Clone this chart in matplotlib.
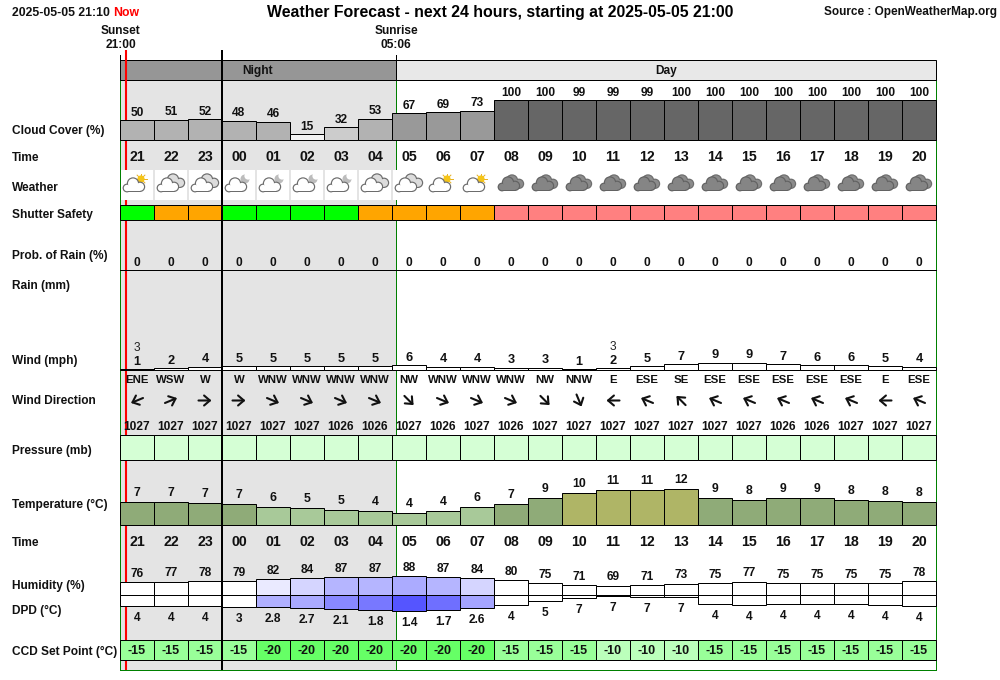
import numpy as np
import matplotlib
matplotlib.use('Agg')
import matplotlib.pyplot as plt
from matplotlib.patches import Circle, Rectangle

plt.rcParams['font.family'] = ['Liberation Sans', 'DejaVu Sans']

# one column per forecast hour
hours = ['21', '22', '23', '00', '01', '02', '03', '04', '05', '06', '07', '08',
         '09', '10', '11', '12', '13', '14', '15', '16', '17', '18', '19', '20']
cloud = [50, 51, 52, 48, 46, 15, 32, 53, 67, 69, 73, 100,
         100, 99, 99, 99, 100, 100, 100, 100, 100, 100, 100, 100]
icons = ['sun', 'dbl', 'dbl', 'moon', 'moon', 'moon', 'moon', 'dbl', 'dbl', 'sun', 'sun', 'dark',
         'dark', 'dark', 'dark', 'dark', 'dark', 'dark', 'dark', 'dark', 'dark', 'dark', 'dark', 'dark']
shutter = ['g', 'o', 'o', 'g', 'g', 'g', 'g', 'o', 'o', 'o', 'o', 'r',
           'r', 'r', 'r', 'r', 'r', 'r', 'r', 'r', 'r', 'r', 'r', 'r']
rain_prob = [0] * 24
wind = [1, 2, 4, 5, 5, 5, 5, 5, 6, 4, 4, 3, 3, 1, 2, 5, 7, 9, 9, 7, 6, 6, 5, 4]
wind_dir = ['ENE', 'WSW', 'W', 'W', 'WNW', 'WNW', 'WNW', 'WNW', 'NW', 'WNW', 'WNW', 'WNW',
            'NW', 'NNW', 'E', 'ESE', 'SE', 'ESE', 'ESE', 'ESE', 'ESE', 'ESE', 'E', 'ESE']
wind_extra = {0: '3', 14: '3'}
pressure = [1027, 1027, 1027, 1027, 1027, 1027, 1026, 1026, 1027, 1026, 1027, 1026,
            1027, 1027, 1027, 1027, 1027, 1027, 1027, 1026, 1026, 1027, 1027, 1027]
temp = [7.4, 7.4, 7.1, 6.9, 5.9, 5.5, 4.9, 4.5, 3.8, 4.5, 5.9, 7.0,
        9.0, 10.6, 11.6, 11.6, 11.9, 9.0, 8.3, 9.0, 9.0, 8.3, 8.0, 7.6]
temp_labels = [7, 7, 7, 7, 6, 5, 5, 4, 4, 4, 6, 7, 9, 10, 11, 11, 12, 9, 8, 9, 9, 8, 8, 8]
humidity = [76, 77, 78, 79, 82, 84, 87, 87, 88, 87, 84, 80,
            75, 71, 69, 71, 73, 75, 77, 75, 75, 75, 75, 78]
dpd = [3.4, 3.4, 3.4, 3.0, 2.8, 2.7, 2.1, 1.8, 1.4, 1.7, 2.6, 3.7,
       5.2, 6.3, 7.0, 6.7, 6.7, 4.0, 3.7, 4.0, 4.0, 4.0, 3.7, 3.4]
dpd_labels = ['4', '4', '4', '3', '2.8', '2.7', '2.1', '1.8', '1.4', '1.7', '2.6', '4',
              '5', '7', '7', '7', '7', '4', '4', '4', '4', '4', '4', '4']
ccd = [-15, -15, -15, -15, -20, -20, -20, -20, -20, -20, -20, -15,
       -15, -15, -10, -10, -10, -15, -15, -15, -15, -15, -15, -15]

row_labels = {'Cloud Cover (%)': 131, 'Time': 158, 'Weather': 188, 'Shutter Safety': 215,
              'Prob. of Rain (%)': 256, 'Rain (mm)': 286, 'Wind (mph)': 361,
              'Wind Direction': 401, 'Pressure (mb)': 451, 'Temperature (°C)': 505,
              'Humidity (%)': 586, 'DPD (°C)': 611, 'CCD Set Point (°C)': 652}

X0 = 120
COL = 34
x = X0 + COL * np.arange(24) + COL / 2
SUNRISE = 396
RIGHT = X0 + 24 * COL
PX = 0.72  # one pixel in points
BEARING = {'N': 0, 'NNE': 22.5, 'NE': 45, 'ENE': 67.5, 'E': 90, 'ESE': 112.5, 'SE': 135, 'SSE': 157.5,
           'S': 180, 'SSW': 202.5, 'SW': 225, 'WSW': 247.5, 'W': 270, 'WNW': 292.5, 'NW': 315, 'NNW': 337.5}


def cloud_colour(v):
    if v < 20:
        return '#f2f2f2'
    if v < 40:
        return '#cccccc'
    if v < 60:
        return '#b2b2b2'
    if v < 90:
        return '#999999'
    return '#666666'


def temp_colour(t):
    if t >= 9.9:
        return '#afb566'
    if t >= 6.5:
        return '#8fab78'
    return '#a8c999'


def hum_colour(h):
    r = int(np.clip(255 - (h - 80) * 10.5, 0, 255))
    return '#%02x%02xff' % (r, r)


def dpd_colour(d):
    r = int(np.interp(d, [1.4, 1.8, 2.1, 2.8, 2.9, 3.0], [85, 120, 136, 176, 255, 255]))
    return '#%02x%02xff' % (r, r)


def bars(ax, heights, base, colours, z=4):
    # heights go upwards on the page when positive
    ax.bar(x, -np.asarray(heights, dtype=float), bottom=base, width=COL, color=colours,
           edgecolor='black', linewidth=PX, zorder=z)


def col_text(ax, ys, labels, size=8.6, weight='bold', z=8):
    ys = np.broadcast_to(ys, (24,))
    for xi, yi, s in zip(x, ys, labels):
        ax.text(xi, yi, str(s), ha='center', va='center', fontsize=size, fontweight=weight,
                color='#111111', zorder=z)


def draw_cloud(ax, cx, cy, face, edge, z=7):
    parts = [(-7, 3, 4.4), (-1, -1.5, 6.2), (6, 1.8, 5.2)]
    for dx, dy, r in parts:
        ax.add_patch(Circle((cx + dx, cy + dy), r, fc=edge, ec='none', zorder=z))
    ax.add_patch(Rectangle((cx - 7, cy + 2), 13, 5.4, fc=edge, ec='none', zorder=z))
    for dx, dy, r in parts:
        ax.add_patch(Circle((cx + dx, cy + dy), r - 1.2, fc=face, ec='none', zorder=z))
    ax.add_patch(Rectangle((cx - 7, cy + 1), 13, 5.2, fc=face, ec='none', zorder=z))


def draw_icon(ax, cx, kind):
    cy = 184
    if kind == 'dark':
        draw_cloud(ax, cx + 2, cy - 2, '#8c8c8c', '#6e6e6e', z=6)
        draw_cloud(ax, cx - 2, cy, '#858585', '#626262')
        return
    if kind == 'sun':
        sx, sy = cx + 4, cy - 5
        for a in np.radians(np.arange(0, 360, 45)):
            ax.plot([sx, sx + 5.5 * np.cos(a)], [sy, sy + 5.5 * np.sin(a)], color='#e8b020', lw=0.7, zorder=6)
        ax.add_patch(Circle((sx, sy), 3.6, fc='#f5c518', ec='none', zorder=6))
    elif kind == 'moon':
        ax.add_patch(Circle((cx + 6, cy - 5), 4.5, fc='#bcbcbc', ec='none', zorder=6))
        ax.add_patch(Circle((cx + 9, cy - 8), 3.6, fc='white', ec='none', zorder=6))
    else:
        draw_cloud(ax, cx + 3, cy - 3, '#dcdcdc', '#6c6c6c', z=6)
    draw_cloud(ax, cx - 3, cy + 1, 'white', '#6c6c6c')


fig = plt.figure(figsize=(10, 6.8), dpi=100)
ax = fig.add_axes([0, 0, 1, 1])
ax.set_xlim(0, 1000)
ax.set_ylim(680, 0)
ax.axis('off')

# night shading and the green frame
ax.add_patch(Rectangle((X0, 80), SUNRISE - X0, 590, fc='#e4e4e4', ec='none', zorder=1))
for xv in (X0, SUNRISE, RIGHT):
    ax.plot([xv, xv], [80, 670], color='#008000', lw=PX, zorder=2)
ax.plot([X0, RIGHT], [670, 670], color='#008000', lw=PX, zorder=2)
ax.plot([126, 126], [50, 670], color='#ff0000', lw=1.5, zorder=3, solid_capstyle='butt')

# night / day band
ax.add_patch(Rectangle((X0, 60), SUNRISE - X0, 20, fc='#969696', ec='black', lw=PX, zorder=2.5))
ax.add_patch(Rectangle((SUNRISE, 60), RIGHT - SUNRISE, 20, fc='#e8e8e8', ec='black', lw=PX, zorder=2.5))
ax.text(258, 71, 'Night', ha='center', va='center', fontsize=8.6, fontweight='bold', color='#111111', zorder=8)
ax.text(666, 71, 'Day', ha='center', va='center', fontsize=8.6, fontweight='bold', color='#111111', zorder=8)
for xv in (X0, SUNRISE):
    ax.plot([xv, xv], [55, 60], color='black', lw=PX, zorder=3)

# cloud cover
cloud = np.array(cloud)
bars(ax, cloud * 0.4, 140, [cloud_colour(v) for v in cloud])
col_text(ax, 140 - cloud * 0.4 - 7.5, cloud)

col_text(ax, 157, hours, size=10.2)

# weather icons sit on white tiles
for xi, kind in zip(x, icons):
    ax.add_patch(Rectangle((xi - 16.5, 170), 32, 30, fc='white', ec='none', zorder=5))
    draw_icon(ax, xi, kind)

shutter_cols = {'g': '#00ff00', 'o': '#ffa500', 'r': '#ff8080'}
bars(ax, [15] * 24, 220, [shutter_cols[s] for s in shutter])

col_text(ax, 263, rain_prob)
ax.plot([X0, RIGHT], [270, 270], color='black', lw=PX, zorder=4)

# wind
wind = np.array(wind)
bars(ax, wind * 0.8, 370, 'white')
col_text(ax, 370 - wind * 0.8 - 7.5, wind, size=9.2)
for i, s in wind_extra.items():
    ax.text(x[i], 370 - wind[i] * 0.8 - 21, s, ha='center', va='center', fontsize=8.6, color='#222222', zorder=8)

col_text(ax, 380, wind_dir, size=8.2)
for xi, d in zip(x, wind_dir):
    # arrow points where the wind goes, not where it comes from
    ang = np.radians(BEARING[d] + 180)
    dx, dy = 6.5 * np.sin(ang), -6.5 * np.cos(ang)
    ax.annotate('', xy=(xi + dx, 400.5 + dy), xytext=(xi - dx, 400.5 - dy), zorder=8,
                arrowprops=dict(arrowstyle='->,head_length=0.42,head_width=0.36', lw=1.5, color='#111111',
                                shrinkA=0, shrinkB=0))

col_text(ax, 427, pressure)
bars(ax, [25] * 24, 460, '#d5ffd5')

# temperature
temp = np.array(temp)
bars(ax, temp * 3.05, 525, [temp_colour(t) for t in temp])
col_text(ax, 525 - temp * 3.05 - 9, temp_labels, size=8.8)

col_text(ax, 542, hours, size=10.2)

# humidity goes up, dew point depression goes down
humidity = np.array(humidity)
dpd = np.array(dpd)
hum_h = (humidity - 50) / 2
dpd_h = (7.4 - dpd) * 2.7
bars(ax, hum_h, 595, [hum_colour(h) for h in humidity])
bars(ax, -dpd_h, 595, [dpd_colour(d) for d in dpd])
col_text(ax, 595 - hum_h - 8, humidity)
col_text(ax, 595 + dpd_h + 12, dpd_labels)

# ccd set point
ccd_cols = {-20: '#66ff66', -15: '#99ff99', -10: '#bbffbb'}
bars(ax, [20] * 24, 660, [ccd_cols[c] for c in ccd])
col_text(ax, 651, ccd, size=9.0)

# midnight marker goes over everything
ax.plot([222, 222], [50, 670], color='black', lw=2 * PX, zorder=9, solid_capstyle='butt')

for name, yv in row_labels.items():
    ax.text(12, yv, name, ha='left', va='center', fontsize=8.6, fontweight='bold', color='#111111', zorder=8)
ax.text(12, 543, 'Time', ha='left', va='center', fontsize=8.6, fontweight='bold', color='#111111', zorder=8)

# header texts
ax.text(12, 13.5, '2025-05-05 21:10', ha='left', va='center', fontsize=8.8, fontweight='bold', color='#111111')
ax.text(113, 13.5, 'Now', ha='left', va='center', fontsize=8.8, fontweight='bold', color='#ff0000')
ax.text(500, 12.5, 'Weather Forecast - next 24 hours, starting at 2025-05-05 21:00', ha='center', va='center',
        fontsize=11.4, fontweight='bold', color='#000000')
ax.text(997, 11.5, 'Source : OpenWeatherMap.org', ha='right', va='center', fontsize=8.5, fontweight='bold', color='#111111')
ax.text(120.5, 30.5, 'Sunset', ha='center', va='center', fontsize=8.6, fontweight='bold', color='#111111')
ax.text(120.5, 45.5, '21:00', ha='center', va='center', fontsize=8.6, fontweight='bold', color='#111111')
ax.text(396, 30.5, 'Sunrise', ha='center', va='center', fontsize=8.6, fontweight='bold', color='#111111')
ax.text(396, 45.5, '05:06', ha='center', va='center', fontsize=8.6, fontweight='bold', color='#111111')

fig.savefig('out.png', dpi=100)
